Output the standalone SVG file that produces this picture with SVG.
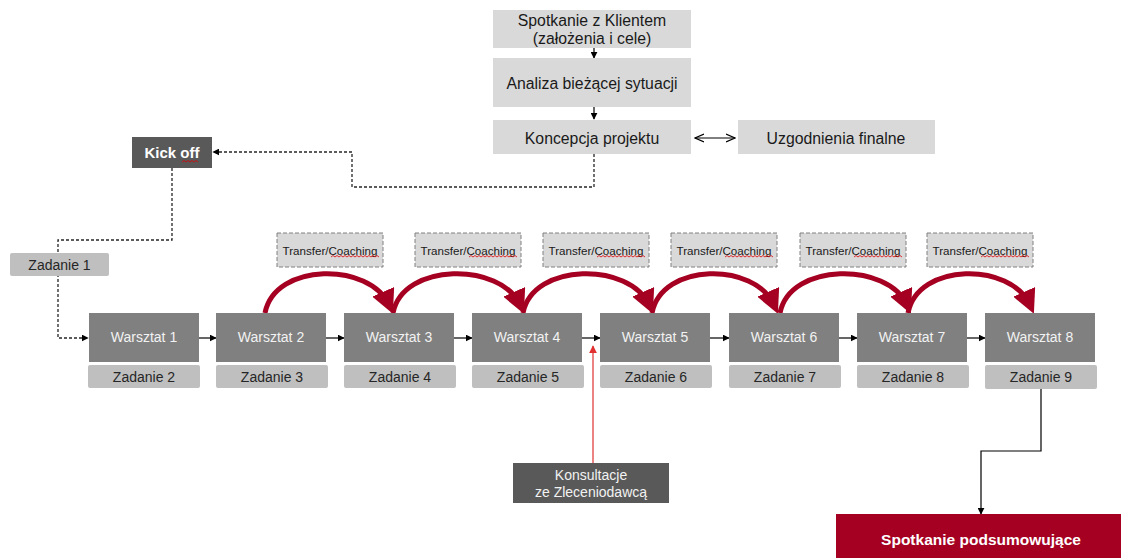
<svg xmlns="http://www.w3.org/2000/svg" width="1121" height="558" viewBox="0 0 1121 558">
<style>
text{font-family:"Liberation Sans",Arial,sans-serif;text-anchor:middle;dominant-baseline:central}
.top{fill:#D9D9D9}
.topt{fill:#1a1a1a;font-size:15.8px}
.ws{fill:#808080}
.wst{fill:#F2F2F2;font-size:14px}
.zd{fill:#BFBFBF}
.zdt{fill:#262626;font-size:14px}
.tc{fill:#D9D9D9;stroke:#808080;stroke-width:1;stroke-dasharray:4,2}
.tct{fill:#1a1a1a;font-size:11.6px}
.dark{fill:#595959}
.blk{stroke:#000;stroke-width:1.2;fill:none}
.dash{stroke:#262626;stroke-width:1.3;fill:none;stroke-dasharray:3,2}
.arc{stroke:#A50021;stroke-width:5;fill:none}
.wavy{stroke:#E00000;stroke-width:0.8;fill:none}
</style>
<defs>
<marker id="ah" viewBox="0 0 10 10" refX="9" refY="5" markerWidth="7" markerHeight="7" markerUnits="userSpaceOnUse" orient="auto"><path d="M0,0 L10,5 L0,10 z" fill="#000"/></marker>
<marker id="oh" viewBox="0 0 10 10" refX="9" refY="5" markerWidth="10" markerHeight="10" markerUnits="userSpaceOnUse" orient="auto-start-reverse"><path d="M0,1 L9,5 L0,9" fill="none" stroke="#000" stroke-width="1.2"/></marker>
<marker id="rh" viewBox="0 0 20 20" refX="12" refY="10" markerWidth="24" markerHeight="24" markerUnits="userSpaceOnUse" orient="auto"><path d="M0,0 L20,10 L0,20 z" fill="#A50021"/></marker>
<marker id="rah" viewBox="0 0 10 10" refX="9" refY="5" markerWidth="8" markerHeight="8" markerUnits="userSpaceOnUse" orient="auto"><path d="M0,0 L10,5 L0,10 z" fill="#E03030"/></marker>
</defs>

<g id="connectors">
<line class="blk" x1="594" y1="48" x2="594" y2="58" marker-end="url(#ah)"/>
<line class="blk" x1="594" y1="107" x2="594" y2="119" marker-end="url(#ah)"/>
<line class="blk" x1="695" y1="138" x2="735" y2="138" marker-start="url(#oh)" marker-end="url(#oh)"/>
<polyline class="dash" points="594,154 594,187 352,187 352,152 213,152" marker-end="url(#ah)"/>
<polyline class="dash" points="172,168 172,240 58,240 58,338 88,338" marker-end="url(#ah)"/>
<line class="blk" x1="190" y1="338" x2="216" y2="338" marker-end="url(#ah)"/>
<line class="blk" x1="317" y1="338" x2="344" y2="338" marker-end="url(#ah)"/>
<line class="blk" x1="445" y1="338" x2="472" y2="338" marker-end="url(#ah)"/>
<line class="blk" x1="573" y1="338" x2="600" y2="338" marker-end="url(#ah)"/>
<line class="blk" x1="701" y1="338" x2="729" y2="338" marker-end="url(#ah)"/>
<line class="blk" x1="830" y1="338" x2="857" y2="338" marker-end="url(#ah)"/>
<line class="blk" x1="958" y1="338" x2="985" y2="338" marker-end="url(#ah)"/>
<line x1="593" y1="463" x2="593" y2="346" stroke="#E03030" stroke-width="1.2" marker-end="url(#rah)"/>
<polyline class="blk" points="1041,389 1041,451 981,451 981,514" stroke-width="1.5" marker-end="url(#ah)"/>
<path class="arc" d="M265,313 c10,-51 105,-51 124,-8" marker-end="url(#rh)"/>
<path class="arc" d="M393,313 c10,-51 108,-51 127,-8" marker-end="url(#rh)"/>
<path class="arc" d="M523,313 c10,-51 107,-51 126,-8" marker-end="url(#rh)"/>
<path class="arc" d="M652,313 c10,-51 103,-51 122,-8" marker-end="url(#rh)"/>
<path class="arc" d="M780,313 c10,-51 108,-51 127,-8" marker-end="url(#rh)"/>
<path class="arc" d="M908,313 c10,-51 103,-51 122,-8" marker-end="url(#rh)"/>
</g>

<g id="spotkanie"><rect class="top" x="493" y="10" width="198" height="38"/><text class="topt" x="592" y="20">Spotkanie z Klientem</text><text class="topt" x="592" y="38">(założenia i cele)</text></g>
<g id="analiza"><rect class="top" x="493" y="58" width="198" height="49"/><text class="topt" x="592" y="83">Analiza bieżącej sytuacji</text></g>
<g id="koncepcja"><rect class="top" x="493" y="120" width="198" height="34"/><text class="topt" x="592" y="138">Koncepcja projektu</text></g>
<g id="uzgodnienia"><rect class="top" x="738" y="120" width="197" height="34"/><text class="topt" x="836" y="138">Uzgodnienia finalne</text></g>

<g id="kickoff"><rect class="dark" x="132" y="137" width="80" height="31"/><text x="172" y="152" fill="#fff" font-size="15" font-weight="bold">Kick off</text><path class="wavy" d="M182,162 l2,-1.5 l2,1.5 l2,-1.5 l2,1.5 l2,-1.5 l2,1.5 l2,-1.5 l2,1.5"/></g>
<g id="zadanie1"><rect class="zd" x="10" y="253" width="99" height="23" rx="2"/><text class="zdt" x="59.5" y="265">Zadanie 1</text></g>

<g id="tc1"><rect class="tc" x="277" y="233" width="106" height="34"/><text class="tct" x="330" y="250">Transfer/Coaching</text><path class="wavy" d="M331,257 l2,-1.5 l2,1.5 l2,-1.5 l2,1.5 l2,-1.5 l2,1.5 l2,-1.5 l2,1.5 l2,-1.5 l2,1.5 l2,-1.5 l2,1.5 l2,-1.5 l2,1.5 l2,-1.5 l2,1.5 l2,-1.5 l2,1.5 l2,-1.5 l2,1.5 l2,-1.5 l2,1.5 l2,-1.5 l2,1.5"/></g>
<g id="tc2"><rect class="tc" x="415" y="233" width="106" height="34"/><text class="tct" x="468" y="250">Transfer/Coaching</text><path class="wavy" d="M469,257 l2,-1.5 l2,1.5 l2,-1.5 l2,1.5 l2,-1.5 l2,1.5 l2,-1.5 l2,1.5 l2,-1.5 l2,1.5 l2,-1.5 l2,1.5 l2,-1.5 l2,1.5 l2,-1.5 l2,1.5 l2,-1.5 l2,1.5 l2,-1.5 l2,1.5 l2,-1.5 l2,1.5 l2,-1.5 l2,1.5"/></g>
<g id="tc3"><rect class="tc" x="543" y="233" width="106" height="34"/><text class="tct" x="596" y="250">Transfer/Coaching</text><path class="wavy" d="M597,257 l2,-1.5 l2,1.5 l2,-1.5 l2,1.5 l2,-1.5 l2,1.5 l2,-1.5 l2,1.5 l2,-1.5 l2,1.5 l2,-1.5 l2,1.5 l2,-1.5 l2,1.5 l2,-1.5 l2,1.5 l2,-1.5 l2,1.5 l2,-1.5 l2,1.5 l2,-1.5 l2,1.5 l2,-1.5 l2,1.5"/></g>
<g id="tc4"><rect class="tc" x="671" y="233" width="106" height="34"/><text class="tct" x="724" y="250">Transfer/Coaching</text><path class="wavy" d="M725,257 l2,-1.5 l2,1.5 l2,-1.5 l2,1.5 l2,-1.5 l2,1.5 l2,-1.5 l2,1.5 l2,-1.5 l2,1.5 l2,-1.5 l2,1.5 l2,-1.5 l2,1.5 l2,-1.5 l2,1.5 l2,-1.5 l2,1.5 l2,-1.5 l2,1.5 l2,-1.5 l2,1.5 l2,-1.5 l2,1.5"/></g>
<g id="tc5"><rect class="tc" x="800" y="233" width="106" height="34"/><text class="tct" x="853" y="250">Transfer/Coaching</text><path class="wavy" d="M854,257 l2,-1.5 l2,1.5 l2,-1.5 l2,1.5 l2,-1.5 l2,1.5 l2,-1.5 l2,1.5 l2,-1.5 l2,1.5 l2,-1.5 l2,1.5 l2,-1.5 l2,1.5 l2,-1.5 l2,1.5 l2,-1.5 l2,1.5 l2,-1.5 l2,1.5 l2,-1.5 l2,1.5 l2,-1.5 l2,1.5"/></g>
<g id="tc6"><rect class="tc" x="927" y="233" width="106" height="34"/><text class="tct" x="980" y="250">Transfer/Coaching</text><path class="wavy" d="M981,257 l2,-1.5 l2,1.5 l2,-1.5 l2,1.5 l2,-1.5 l2,1.5 l2,-1.5 l2,1.5 l2,-1.5 l2,1.5 l2,-1.5 l2,1.5 l2,-1.5 l2,1.5 l2,-1.5 l2,1.5 l2,-1.5 l2,1.5 l2,-1.5 l2,1.5 l2,-1.5 l2,1.5 l2,-1.5 l2,1.5"/></g>

<g id="w1"><rect class="ws" x="89" y="313" width="110" height="49"/><text class="wst" x="144" y="337">Warsztat 1</text><rect class="zd" x="88" y="365" width="112" height="23" rx="2"/><text class="zdt" x="144" y="377">Zadanie 2</text></g>
<g id="w2"><rect class="ws" x="216" y="313" width="110" height="49"/><text class="wst" x="271" y="337">Warsztat 2</text><rect class="zd" x="216" y="365" width="112" height="23" rx="2"/><text class="zdt" x="272" y="377">Zadanie 3</text></g>
<g id="w3"><rect class="ws" x="344" y="313" width="110" height="49"/><text class="wst" x="399" y="337">Warsztat 3</text><rect class="zd" x="344" y="365" width="112" height="23" rx="2"/><text class="zdt" x="400" y="377">Zadanie 4</text></g>
<g id="w4"><rect class="ws" x="472" y="313" width="110" height="49"/><text class="wst" x="527" y="337">Warsztat 4</text><rect class="zd" x="472" y="365" width="112" height="23" rx="2"/><text class="zdt" x="528" y="377">Zadanie 5</text></g>
<g id="w5"><rect class="ws" x="600" y="313" width="110" height="49"/><text class="wst" x="655" y="337">Warsztat 5</text><rect class="zd" x="600" y="365" width="112" height="23" rx="2"/><text class="zdt" x="656" y="377">Zadanie 6</text></g>
<g id="w6"><rect class="ws" x="729" y="313" width="110" height="49"/><text class="wst" x="784" y="337">Warsztat 6</text><rect class="zd" x="729" y="365" width="112" height="23" rx="2"/><text class="zdt" x="785" y="377">Zadanie 7</text></g>
<g id="w7"><rect class="ws" x="857" y="313" width="110" height="49"/><text class="wst" x="912" y="337">Warsztat 7</text><rect class="zd" x="857" y="365" width="112" height="23" rx="2"/><text class="zdt" x="913" y="377">Zadanie 8</text></g>
<g id="w8"><rect class="ws" x="985" y="313" width="110" height="49"/><text class="wst" x="1040" y="337">Warsztat 8</text><rect class="zd" x="985" y="365" width="112" height="24" rx="2"/><text class="zdt" x="1041" y="377">Zadanie 9</text></g>

<g id="konsultacje"><rect class="dark" x="513" y="463" width="156" height="40"/><text x="591" y="475" fill="#F2F2F2" font-size="14">Konsultacje</text><text x="591" y="492" fill="#F2F2F2" font-size="14">ze Zleceniodawcą</text></g>
<g id="podsumowanie"><rect x="836" y="514" width="285" height="44" fill="#A50021"/><text x="981" y="539" fill="#fff" font-size="15.5" font-weight="bold">Spotkanie podsumowujące</text></g>
</svg>
